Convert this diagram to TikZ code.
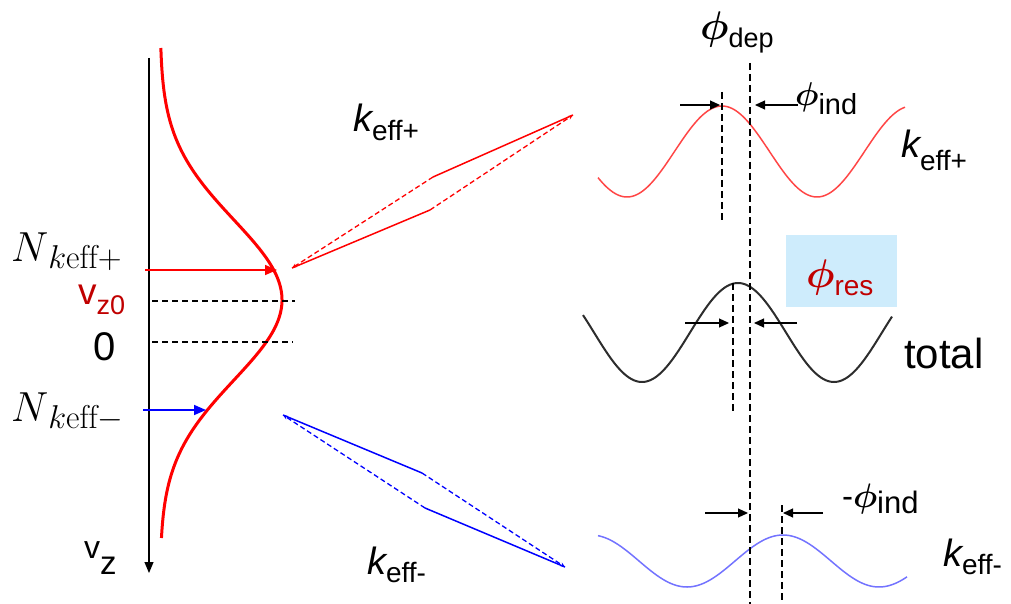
\RequirePackage{fix-cm}
\documentclass[tikz,border=0pt]{standalone}
\usepackage{amsmath}
\usepackage{fontspec}
\newfontfamily\arial{Liberation Sans}
\usetikzlibrary{arrows.meta}
\definecolor{dred}{RGB}{192,0,0}
\definecolor{sinered}{RGB}{255,70,70}
\definecolor{sineblue}{RGB}{115,115,255}
\definecolor{sinegray}{RGB}{45,45,45}
\definecolor{boxblue}{RGB}{206,236,252}
\newcommand\fs[1]{\fontsize{#1}{#1}\selectfont}
\newcommand\subt[3]{\raisebox{-#1pt}{\fs{#2}\arial #3}}
\newcommand\kk[1]{{\fs{#1}\arial\itshape k}}
\newcommand\ph[1]{{\fs{#1}$\boldsymbol{\phi}$}}
\newcommand\Nlab[1]{{\fs{42}$N$}\raisebox{-7pt}{\fs{33}$k\mathrm{eff}#1$}}
\begin{document}
\begin{tikzpicture}[x=1pt,y=-1pt,
  lbl/.style={inner sep=0pt, outer sep=0pt, anchor=base west},
  dsh/.style={dash pattern=on 6pt off 4pt, line width=1.2pt},
  vdsh/.style={dash pattern=on 7pt off 4pt, line width=1.3pt},
  blk/.style={line width=1.1pt, -{Triangle[length=10pt,width=9pt]}},
  col/.style={line width=1.6pt, -{Triangle[length=12pt,width=10pt]}},
  dia/.style={line width=1.5pt},
  diad/.style={line width=1.3pt, dash pattern=on 5pt off 3pt, -{Stealth[length=5pt,width=4pt]}}]
\useasboundingbox (0,0) rectangle (1011,604);

% ---------- left: velocity distribution ----------
\coordinate (axtop) at (149,58);
\coordinate (axbot) at (149,573);
\draw[line width=1.1pt, -{Triangle[length=11pt,width=9pt]}] (axtop) -- (axbot);
\draw[red, line width=3pt] plot[domain=48:538, samples=150, smooth] ({160+122*exp(-0.5*((\x-300)/80)^2)}, \x);

\coordinate (ra) at (145,270); \coordinate (rb) at (277,270);
\draw[red, col] (ra) -- (rb);
\coordinate (ba) at (143,410); \coordinate (bb) at (206,410);
\draw[blue, col] (ba) -- (bb);

\coordinate (d1a) at (152,301); \coordinate (d1b) at (295,301);
\draw[dsh] (d1a) -- (d1b);
\coordinate (d2a) at (152,342); \coordinate (d2b) at (293,342);
\draw[dsh] (d2a) -- (d2b);

\node[lbl] (Np) at (11,261) {\Nlab{+}};
\node[lbl] (Nm) at (11,421) {\Nlab{-}};
\node[lbl, text=dred, text height=20pt] (vz0) at (78,304) {{\fs{37}\arial v}\subt{10}{27}{z0}};
\node[lbl] (zero) at (93,360) {\fs{40}\arial 0};
\node[lbl] (vz) at (84,558) {{\fs{32}\arial v}\subt{16}{33}{z}};

% ---------- middle: diamonds ----------
\coordinate (rL) at (292,268); \coordinate (rU) at (433,177);
\coordinate (rD) at (430,210); \coordinate (rR) at (573,115);
\draw[red, dia] (rU) -- (rR);
\draw[red, dia] (rL) -- (rD);
\draw[red, diad] (rU) -- (rL);
\draw[red, diad] (rD) -- (rR);

\coordinate (bL) at (283,415); \coordinate (bU) at (422,473);
\coordinate (bD) at (425,508); \coordinate (bR) at (565,567);
\draw[blue, dia] (bL) -- (bU);
\draw[blue, dia] (bD) -- (bR);
\draw[blue, diad] (bD) -- (bL);
\draw[blue, diad] (bU) -- (bR);

\node[lbl] (kp) at (353,132) {\kk{38}\subt{9}{28}{eff+}};
\node[lbl] (km) at (367,574) {\kk{38}\subt{8}{28}{eff-}};

% ---------- right: fringes ----------
\fill[boxblue] (786,235) rectangle (897,307);
\node[lbl, text=dred] (phres) at (806,287) {\ph{40}\subt{8}{28}{res}};

\draw[sinered, line width=1.5pt] plot[domain=598:905, samples=150, smooth] (\x, {151.5-45.5*cos((\x-722)/190*360)});
\draw[sinegray, line width=2pt] plot[domain=583:892, samples=150, smooth] (\x, {332.5-49.5*cos((\x-738)/192*360)});
\draw[sineblue, line width=1.5pt] plot[domain=598:907, samples=150, smooth] (\x, {561-26*cos((\x-783)/192*360)});

\coordinate (v1a) at (722,92);  \coordinate (v1b) at (722,222);
\coordinate (v2a) at (750,63);  \coordinate (v2b) at (750,604);
\coordinate (v3a) at (733,283); \coordinate (v3b) at (733,412);
\coordinate (v4a) at (782,505); \coordinate (v4b) at (782,604);
\draw[vdsh] (v1a) -- (v1b);
\draw[vdsh] (v2a) -- (v2b);
\draw[vdsh] (v3a) -- (v3b);
\draw[vdsh] (v4a) -- (v4b);

\coordinate (a1) at (680,105); \coordinate (a1t) at (720,105);
\coordinate (a2) at (798,105); \coordinate (a2t) at (755,105);
\draw[blk] (a1) -- (a1t);
\draw[blk] (a2) -- (a2t);
\coordinate (a3) at (685,323); \coordinate (a3t) at (729,323);
\coordinate (a4) at (797,323); \coordinate (a4t) at (754,323);
\draw[blk] (a3) -- (a3t);
\draw[blk] (a4) -- (a4t);
\coordinate (a5) at (705,513); \coordinate (a5t) at (748,513);
\coordinate (a6) at (823,513); \coordinate (a6t) at (783,513);
\draw[blk] (a5) -- (a5t);
\draw[blk] (a6) -- (a6t);

\node[lbl] (phdep) at (700,40) {\ph{40}\subt{8}{27}{dep}};
\node[lbl] (phind) at (795,106) {\ph{33}\subt{9}{29}{ind}};
\node[lbl] (phindm) at (842,507) {{\fs{33}\arial -}\ph{34}\subt{6}{31}{ind}};
\node[lbl] (kpr) at (901,158) {\kk{38}\subt{13}{28}{eff+}};
\node[lbl] (total) at (904,368) {\fs{42}\arial total};
\node[lbl] (kmr) at (943,566) {\kk{38}\subt{8}{28}{eff-}};
\end{tikzpicture}
\end{document}
